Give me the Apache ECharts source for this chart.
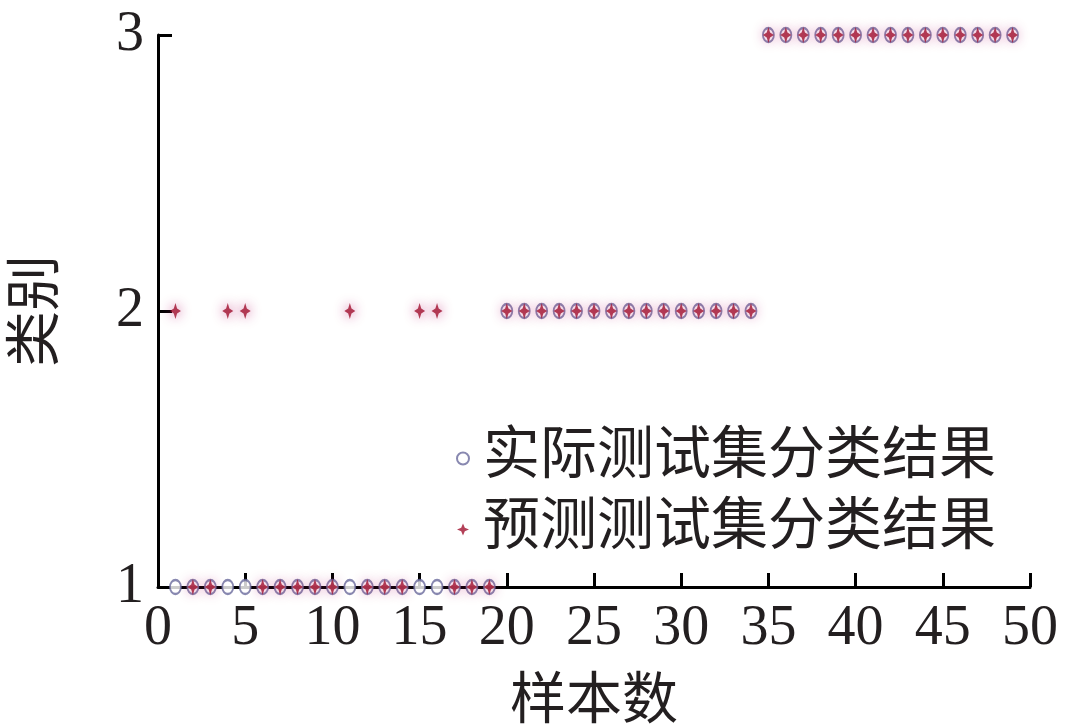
<!DOCTYPE html>
<html>
<head>
<meta charset="utf-8">
<script src="https://cdn.jsdelivr.net/npm/echarts@6/dist/echarts.min.js"></script>
<style>
  html, body { margin: 0; padding: 0; background: #fff; }
  #chart { width: 1069px; height: 728px; }
</style>
</head>
<body>
<div id="chart"></div>
<script>
(function(){
  var seriesNames = ['实际测试集分类结果', '预测测试集分类结果'];
  // class of each test sample (sample 1..49)
  var actualClass = [1,1,1,1,1,1,1,1,1,1,1,1,1,1,1,1,1,1,1,
                     2,2,2,2,2,2,2,2,2,2,2,2,2,2,2,
                     3,3,3,3,3,3,3,3,3,3,3,3,3,3,3];
  var predictClass = [2,1,1,2,2,1,1,1,1,1,2,1,1,1,2,2,1,1,1,
                      2,2,2,2,2,2,2,2,2,2,2,2,2,2,2,
                      3,3,3,3,3,3,3,3,3,3,3,3,3,3,3];
  var font = "'Liberation Serif', 'Noto Sans CJK SC', serif";
  var txt = '#231f20';
  var starPath = 'path://M0,-10 L3,-3 L10,0 L3,3 L0,10 L-3,3 L-10,0 L-3,-3 Z';

  function toPoints(arr){
    var res = [];
    for (var i = 0; i < arr.length; i++) {
      res.push([i + 1, arr[i]]);   // sample number starts at 1
    }
    return res;
  }

  var myChart = echarts.init(document.getElementById('chart'));
  var option = {
    animation: false,
    backgroundColor: '#fff',
    textStyle: { fontFamily: font, color: txt },
    grid: { left: 158, right: 39, top: 35, bottom: 141, outerBoundsMode: 'none' },
    legend: {
      orient: 'vertical',
      left: 451,
      top: 425,
      itemGap: 14,
      itemWidth: 12,
      itemHeight: 15,
      data: seriesNames,
      textStyle: { fontFamily: font, fontSize: 57, color: txt, padding: [0, 0, 0, 9] }
    },
    xAxis: {
      type: 'value',
      min: 0, max: 50, interval: 5,
      name: '样本数',
      nameLocation: 'middle',
      nameGap: 88,
      nameTextStyle: { fontFamily: font, fontSize: 56, color: txt },
      axisLine: { lineStyle: { color: '#000', width: 3 } },
      axisTick: { inside: true, length: 14, lineStyle: { color: '#000', width: 3 } },
      axisLabel: { fontFamily: font, fontSize: 56, color: txt, margin: 14 },
      splitLine: { show: false }
    },
    yAxis: {
      type: 'value',
      min: 1, max: 3, interval: 1,
      name: '类别',
      nameLocation: 'middle',
      nameRotate: 90,
      nameGap: 92,
      nameTextStyle: { fontFamily: font, fontSize: 56, color: txt },
      axisLine: { show: true, lineStyle: { color: '#000', width: 3 } },
      axisTick: { show: true, inside: true, length: 14, lineStyle: { color: '#000', width: 3 } },
      axisLabel: { fontFamily: font, fontSize: 56, color: txt, margin: 14 },
      splitLine: { show: false }
    },
    series: [{
      name: seriesNames[0],
      type: 'scatter',
      clip: false,
      symbol: 'emptyCircle',
      symbolSize: [11, 14],
      itemStyle: { color: '#6a6a9c', borderColor: '#6a6a9c', borderWidth: 1.8 },
      data: toPoints(actualClass)
    }, {
      name: seriesNames[1],
      type: 'scatter',
      clip: false,
      symbol: starPath,
      symbolSize: [11, 16],
      itemStyle: {
        color: '#a0102e',
        shadowBlur: 12,
        shadowColor: 'rgba(185, 20, 105, 0.95)'
      },
      data: toPoints(predictClass)
    }]
  };
  myChart.setOption(option);
})();
</script>
</body>
</html>
